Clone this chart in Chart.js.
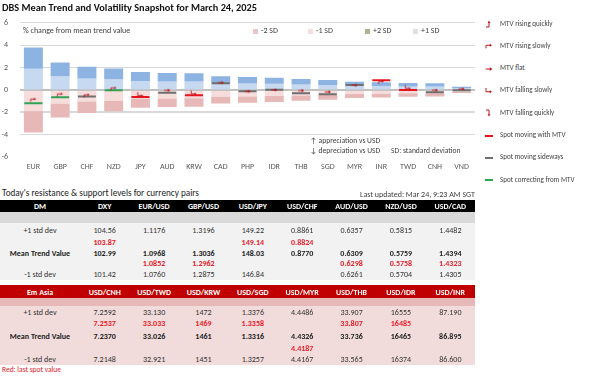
<!DOCTYPE html>
<html>
<head>
<meta charset="utf-8">
<script src="https://cdn.jsdelivr.net/npm/chart.js@4.4.0/dist/chart.umd.min.js"></script>
<style>
  body { margin: 0; width: 605px; height: 378px; background: #fff; position: relative; overflow: hidden;
         font-family: Carlito, Lato, "Liberation Sans", sans-serif; color: #333; }
  .abs { position: absolute; white-space: nowrap; }
  #title { left: 2px; top: 1px; font-weight: bold; font-size: 10.3px; color: #111; }
  #chartBox { position: absolute; left: 0; top: 6px; width: 480px; height: 173px; }
  #chartBox canvas { display: block; }
  .small { font-size: 7.6px; color: #404040; }
  .sdkey { display: inline-block; width: 5px; height: 5px; margin-right: 3px; vertical-align: -0.5px; }
  .legRow { position: absolute; left: 483px; font-size: 7.1px; color: #404040; white-space: nowrap; }
  .legRow canvas { position: absolute; left: 0; top: 0; }
  .legRow span { position: absolute; left: 17px; top: 0.5px; }
  table { position: absolute; left: 0; width: 475px; border-collapse: collapse; table-layout: fixed; font-size: 8px; }
  td, th { padding: 0; text-align: center; overflow: hidden; white-space: nowrap; }
  th { color: #fff; font-weight: bold; }
  .red { color: #e8202a; font-weight: bold; }
  .bold { font-weight: bold; color: #222; }
</style>
</head>
<body>
<div id="chartBox"><canvas id="mtv-chart"></canvas></div>
<div id="title" class="abs">DBS Mean Trend and Volatility Snapshot for March 24, 2025</div>
<div class="abs small" style="left:23px;top:25px;font-size:8px;">% change from mean trend value</div>
<div id="sdLegend"></div>
<div class="abs small" style="left:310px;top:136px;">&#8593; appreciation vs USD</div>
<div class="abs small" style="left:310px;top:146px;">&#8595; depreciation vs USD</div>
<div class="abs small" style="left:391px;top:146px;">SD: standard deviation</div>
<div id="rightLegend"></div>
<div class="abs" style="left:2px;top:187px;font-size:9.2px;color:#222;">Today's resistance &amp; support levels for currency pairs</div>
<div class="abs" style="right:130px;top:189px;font-size:8px;color:#404040;">Last updated: Mar 24, 9:23 AM SGT</div>
<table id="dmTable" style="top:200px;"></table>
<table id="emTable" style="top:285px;"></table>
<div class="abs" style="left:2px;top:365px;font-size:7.5px;color:#e8202a;">Red: last spot value</div>

<script>
// chart data
const categories = ["EUR", "GBP", "CHF", "NZD", "JPY", "AUD", "KRW", "CAD", "PHP", "IDR", "THB", "SGD", "MYR", "INR", "TWD", "CNH", "VND"];
// one standard deviation, % of mean trend value
const sdOne = [1.90, 1.23, 1.03, 0.96, 0.80, 0.76, 0.75, 0.61, 0.58, 0.54, 0.49, 0.44, 0.36, 0.34, 0.31, 0.30, 0.14];
// spot, % from mean trend value
const spotDev = [-1.19, -0.66, -0.58, -0.04, -0.63, -0.26, -0.47, 0.60, -0.11, 0.02, -0.30, -0.38, 0.43, 0.86, 0.00, -0.20, -0.04];
const spotState = ["correct", "correct", "side", "correct", "with", "side", "with", "side", "side", "side", "side", "side", "side", "with", "with", "side", "side"];
const mtvTrend = ["rs", "rs", "rs", "rs", "fs", "flat", "fs", "flat", "flat", "flat", "flat", "flat", "flat", "rs", "fs", "flat", "flat"];
const arrowPos = [-0.88, -0.42, -0.50, 0.12, -0.45, -0.04, -0.30, 0.65, -0.13, 0.00, -0.06, -0.18, 0.42, 0.70, 0.20, -0.03, 0.09];
const yTicks = [-6, -4, -2, 0, 2, 4, 6];

// table data
const dmPairs = ["DXY", "EUR/USD", "GBP/USD", "USD/JPY", "USD/CHF", "AUD/USD", "NZD/USD", "USD/CAD"];
const dmPlus1 = ["104.56", "1.1176", "1.3196", "149.22", "0.8861", "0.6357", "0.5815", "1.4482"];
const dmSpotHi = ["103.87", "", "", "149.14", "0.8824", "", "", ""];
const dmMean = ["102.99", "1.0968", "1.3036", "148.03", "0.8770", "0.6309", "0.5759", "1.4394"];
const dmSpotLo = ["", "1.0852", "1.2962", "", "", "0.6298", "0.5758", "1.4323"];
const dmMinus1 = ["101.42", "1.0760", "1.2875", "146.84", "", "0.6261", "0.5704", "1.4305"];

const emPairs = ["USD/CNH", "USD/TWD", "USD/KRW", "USD/SGD", "USD/MYR", "USD/THB", "USD/IDR", "USD/INR"];
const emPlus1 = ["7.2592", "33.130", "1472", "1.3376", "4.4486", "33.907", "16555", "87.190"];
const emSpotHi = ["7.2537", "33.033", "1469", "1.3358", "", "33.807", "16485", ""];
const emMean = ["7.2370", "33.026", "1461", "1.3316", "4.4326", "33.736", "16465", "86.895"];
const emSpotLo = ["", "", "", "", "4.4187", "", "", ""];
const emMinus1 = ["7.2148", "32.921", "1451", "1.3257", "4.4167", "33.565", "16374", "86.600"];

const FONT = 'Carlito, Lato, "Liberation Sans", sans-serif';
const ARROW_RED = "#b8141c";
const spotColors = { with: "#e8141c", side: "#6f6f6f", correct: "#2ea352" };

function drawGlyph(ctx, type) {
  ctx.strokeStyle = ARROW_RED;
  ctx.fillStyle = ARROW_RED;
  ctx.lineWidth = 1.3;
  ctx.beginPath();
  let head;
  if (type === "flat") { ctx.moveTo(1.5, 6); ctx.lineTo(8, 6); head = [[7, 3.5], [10.5, 6], [7, 8.5]]; }
  if (type === "rs") { ctx.moveTo(2, 9); ctx.lineTo(2, 5); ctx.lineTo(8, 5); head = [[7, 3], [10, 5], [7, 7]]; }
  if (type === "fs") { ctx.moveTo(2, 2); ctx.lineTo(2, 7); ctx.lineTo(8, 7); head = [[7, 5], [10, 7], [7, 9]]; }
  if (type === "rq") { ctx.moveTo(2, 10); ctx.lineTo(6, 10); ctx.lineTo(6, 4); head = [[4, 4.5], [6, 1.5], [8, 4.5]]; }
  if (type === "fq") { ctx.moveTo(2, 2); ctx.lineTo(6, 2); ctx.lineTo(6, 8); head = [[4, 7.5], [6, 10.5], [8, 7.5]]; }
  ctx.stroke();
  ctx.beginPath();
  ctx.moveTo(head[0][0], head[0][1]);
  ctx.lineTo(head[1][0], head[1][1]);
  ctx.lineTo(head[2][0], head[2][1]);
  ctx.closePath();
  ctx.fill();
}

function glyphCanvas(type, scale) {
  const c = document.createElement("canvas");
  c.width = 12; c.height = 12;
  const g = c.getContext("2d");
  g.translate(6, 6);
  g.scale(scale, scale);
  g.translate(-6, -6);
  drawGlyph(g, type);
  return c;
}

const chartGlyphs = {};
["flat", "rs", "fs", "rq", "fq"].forEach(t => { chartGlyphs[t] = glyphCanvas(t, 0.68); });

// SD legend inside the plot
const sdKeys = [["-2 SD", "#ecc4c6", 253], ["-1 SD", "#f5dcdd", 308], ["+2 SD", "#b4b092", 365], ["+1 SD", "#dfe0e6", 413]];
document.getElementById("sdLegend").innerHTML = sdKeys.map(k =>
  `<div class="abs small" style="left:${k[2]}px;top:25px;font-size:8px;"><span class="sdkey" style="background:${k[1]}"></span>${k[0]}</div>`).join("");

// right legend
const rightItems = [
  ["rq", "MTV rising quickly"], ["rs", "MTV rising slowly"], ["flat", "MTV flat"],
  ["fs", "MTV falling slowly"], ["fq", "MTV falling quickly"],
  ["with", "Spot moving with MTV"], ["side", "Spot moving sideways"], ["correct", "Spot correcting from MTV"]
];
const rl = document.getElementById("rightLegend");
rightItems.forEach((it, i) => {
  const row = document.createElement("div");
  row.className = "legRow";
  row.style.top = (18 + i * 22.3) + "px";
  let c;
  if (chartGlyphs[it[0]]) {
    c = glyphCanvas(it[0], 0.75);
  } else {
    c = document.createElement("canvas");
    c.width = 12; c.height = 12;
    const g = c.getContext("2d");
    g.fillStyle = spotColors[it[0]];
    g.fillRect(2, 5, 8, 2);
  }
  row.appendChild(c);
  const s = document.createElement("span");
  s.textContent = it[1];
  row.appendChild(s);
  rl.appendChild(row);
});

// tables
function buildTable(id, corner, pairs, rows, headBg, spacerBg, bodyBg, heights) {
  let html = '<colgroup><col style="width:80px">' + pairs.map(() => '<col>').join("") + '</colgroup>';
  html += `<tr style="height:${heights[0]}px;background:${headBg}"><th>${corner}</th>` + pairs.map(p => `<th>${p}</th>`).join("") + "</tr>";
  html += `<tr style="height:${heights[1]}px;background:${spacerBg}"><td colspan="9"></td></tr>`;
  rows.forEach((r, i) => {
    const cls = r.cls || "";
    html += `<tr style="height:${heights[i + 2]}px;background:${bodyBg}"><td class="${r.labelCls || ""}">${r.label}</td>` +
      r.values.map(v => `<td class="${cls}">${v}</td>`).join("") + "</tr>";
  });
  document.getElementById(id).innerHTML = html;
}

buildTable("dmTable", "DM", dmPairs, [
  { label: "+1 std dev", values: dmPlus1 },
  { label: "", values: dmSpotHi, cls: "red" },
  { label: "Mean Trend Value", values: dmMean, cls: "bold", labelCls: "bold" },
  { label: "", values: dmSpotLo, cls: "red" },
  { label: "-1 std dev", values: dmMinus1 }
], "#000", "#d9d9d9", "#f2f2f2", [12, 11, 13, 11, 11, 10, 12]);

buildTable("emTable", "Em Asia", emPairs, [
  { label: "+1 std dev", values: emPlus1 },
  { label: "", values: emSpotHi, cls: "red" },
  { label: "Mean Trend Value", values: emMean, cls: "bold", labelCls: "bold" },
  { label: "", values: emSpotLo, cls: "red" },
  { label: "-1 std dev", values: emMinus1 }
], "#c00000", "#e6b8b7", "#f2dcdb", [13, 8, 11, 12, 13, 11, 12]);

// zero line drawn over the bands, under the spot marks
const zeroLine = {
  id: "zeroLine",
  beforeDatasetDraw(chart, args) {
    if (args.index !== 4) return;
    const y = chart.scales.y.getPixelForValue(0);
    const a = chart.chartArea;
    const ctx = chart.ctx;
    ctx.save();
    ctx.strokeStyle = "#bdbdbd";
    ctx.lineWidth = 1;
    ctx.beginPath();
    ctx.moveTo(a.left, y + 0.5);
    ctx.lineTo(a.right, y + 0.5);
    ctx.stroke();
    ctx.restore();
  }
};

Chart.defaults.font.family = FONT;
Chart.defaults.color = "#595959";

let config = {
  type: "bar",
  data: {
    labels: categories,
    datasets: [
      { label: "-2 SD", data: sdOne.map(s => [-2 * s, -s]), backgroundColor: "#e6b9b8", order: 3, grouped: false },
      { label: "-1 SD", data: sdOne.map(s => [-s, 0]), backgroundColor: "#f7dcdc", order: 3, grouped: false },
      { label: "+2 SD", data: sdOne.map(s => [s, 2 * s]), backgroundColor: "#8db3e2", order: 3, grouped: false },
      { label: "+1 SD", data: sdOne.map(s => [0, s]), backgroundColor: "#c6d9f1", order: 3, grouped: false },
      {
        type: "line", label: "Spot", data: spotDev, showLine: false, order: 1,
        pointStyle: "line", pointRadius: 9, pointHoverRadius: 9, pointBorderWidth: 2, pointHoverBorderWidth: 2,
        pointBorderColor: spotState.map(s => spotColors[s])
      },
      {
        type: "line", label: "MTV", data: arrowPos, showLine: false, order: 0,
        pointStyle: mtvTrend.map(t => chartGlyphs[t]), pointRadius: 6, pointHoverRadius: 6
      }
    ]
  },
  options: {
    responsive: false,
    animation: false,
    events: [],
    layout: { autoPadding: false, padding: { top: 0, right: 5, left: 0, bottom: 0 } },
    barPercentage: 0.71,
    categoryPercentage: 1,
    plugins: { legend: { display: false }, tooltip: { enabled: false } },
    scales: {
      x: {
        grid: { display: false, drawTicks: false },
        border: { display: false },
        ticks: { font: { size: 8 }, color: "#595959", padding: 5, maxRotation: 0, autoSkip: false },
        afterFit: s => { s.height = 22; }
      },
      y: {
        min: -6, max: 6,
        afterBuildTicks: s => { s.ticks = yTicks.map(v => ({ value: v })); },
        border: { display: false },
        grid: {
          drawTicks: false,
          color: c => c.tick.value === -6 ? "rgba(0,0,0,0)" : (c.tick.value === 0 ? "#bdbdbd" : "#d9d9d9"),
          lineWidth: c => c.tick.value === -2 ? 2 : 1
        },
        ticks: { font: { size: 8 }, color: "#595959", padding: 12 },
        afterFit: s => { s.width = 20; }
      }
    }
  },
  plugins: [zeroLine]
};

const cv = document.getElementById("mtv-chart");
cv.width = 480; cv.height = 173;
window.mtvChart = new Chart(cv.getContext("2d"), config);
</script>
</body>
</html>
